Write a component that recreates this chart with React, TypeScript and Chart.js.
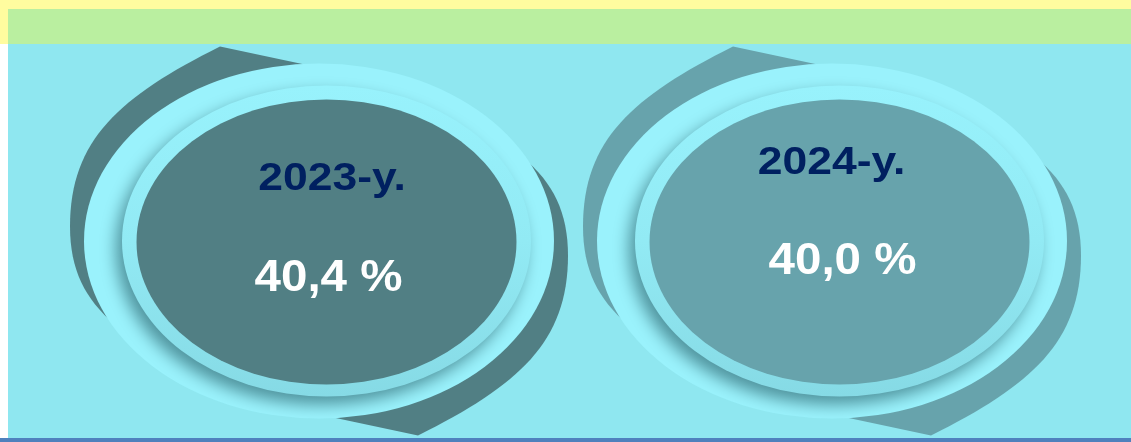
import React, { useEffect, useRef } from "react";
import { Chart, registerables } from "chart.js";

Chart.register(...registerables);

// ---- data ----
const years: string[] = ["2023-y.", "2024-y."];
const shares: number[] = [40.4, 40.0];

// ---- styles / layout (kept apart from the data) ----
const darkFills: string[] = ["#517F84", "#67A3AC"];
const yearShift = [
  { dx: 13, dy: -51.5 },
  { dx: -0.5, dy: -67 },
];
const valueShift = [
  { dx: 9.5, dy: 50 },
  { dx: 10.5, dy: 33 },
];

const W = 1131;
const H = 442;

function ellipsePath(ctx: CanvasRenderingContext2D, x: number, y: number, rx: number, ry: number) {
  ctx.beginPath();
  ctx.ellipse(x, y, rx, ry, 0, 0, Math.PI * 2);
}

function drawItem(ctx: CanvasRenderingContext2D, cx: number, cy: number, i: number) {
  const dark = darkFills[i % darkFills.length];
  ctx.save();
  // back twisted shape (two point-symmetric crescents)
  ctx.fillStyle = dark;
  for (const rot of [0, Math.PI]) {
    ctx.save();
    ctx.translate(cx, cy);
    ctx.rotate(rot);
    ctx.beginPath();
    ctx.moveTo(-99, -194.5);
    ctx.bezierCurveTo(-199, -144.5, -249, -101.5, -249, -14.5);
    ctx.bezierCurveTo(-249, 28.5, -234, 58.5, -204, 83.5);
    ctx.lineTo(-60, 20);
    ctx.lineTo(11.5, -171);
    ctx.closePath();
    ctx.fill();
    ctx.restore();
  }

  // outer light oval
  ctx.fillStyle = "#9AF2FC";
  ellipsePath(ctx, cx, cy, 235, 177.5);
  ctx.fill();

  // middle ring with drop shadow, clipped to outer oval
  ctx.save();
  ellipsePath(ctx, cx, cy, 235, 177.5);
  ctx.clip();
  const g = ctx.createLinearGradient(0, cy - 155, 0, cy + 155);
  g.addColorStop(0, "#98F2FC");
  g.addColorStop(0.5, "#92EAF4");
  g.addColorStop(1, "#86DAE5");
  ctx.fillStyle = g;
  ctx.shadowColor = "rgba(30,85,95,0.6)";
  ctx.shadowBlur = 16;
  ctx.shadowOffsetX = -6;
  ctx.shadowOffsetY = 8;
  ellipsePath(ctx, cx + 7.5, cy, 204.5, 155.5);
  ctx.fill();
  ctx.restore();

  // inner dark oval
  ctx.fillStyle = dark;
  ellipsePath(ctx, cx + 7.5, cy + 1, 190, 142.5);
  ctx.fill();

  // texts
  const ys = yearShift[i] || { dx: 0, dy: -55 };
  const vs = valueShift[i] || { dx: 0, dy: 45 };
  ctx.textAlign = "center";
  ctx.textBaseline = "alphabetic";

  ctx.save();
  ctx.translate(cx + ys.dx, cy + ys.dy);
  ctx.scale(1.17, 1);
  ctx.font = 'bold 38px "Liberation Sans", Arial, sans-serif';
  ctx.fillStyle = "#002060";
  ctx.fillText(years[i], 0, 0);
  ctx.restore();

  ctx.save();
  ctx.translate(cx + vs.dx, cy + vs.dy);
  ctx.scale(1.08, 1);
  ctx.font = 'bold 44px "Liberation Sans", Arial, sans-serif';
  ctx.fillStyle = "#FFFFFF";
  ctx.fillText(shares[i].toFixed(1).replace(".", ",") + " %", 0, 0);
  ctx.restore();

  ctx.restore();
}

const ovalPlugin = {
  id: "ovalPlugin",
  beforeDraw(chart: any) {
    const ctx: CanvasRenderingContext2D = chart.ctx;
    const w = chart.width;
    const h = chart.height;
    ctx.save();
    ctx.fillStyle = "#FFFFFF";
    ctx.fillRect(0, 0, w, h);
    ctx.fillStyle = "#FFFC9F";
    ctx.fillRect(0, 0, w, 9);
    ctx.fillRect(0, 0, 8, 44);
    ctx.fillStyle = "#BAEFA0";
    ctx.fillRect(8, 9, w - 8, 35);
    ctx.fillStyle = "#8FE7F0";
    ctx.fillRect(8, 44, w - 8, 394);
    ctx.fillStyle = "#4F81BD";
    ctx.fillRect(0, 438, w, h - 438);
    ctx.restore();
  },
  afterDatasetsDraw(chart: any) {
    const ctx: CanvasRenderingContext2D = chart.ctx;
    const meta = chart.getDatasetMeta(0);
    meta.data.forEach((pt: any, i: number) => {
      drawItem(ctx, pt.x, pt.y, i);
    });
  },
};

export default function App() {
  const ref = useRef<HTMLCanvasElement | null>(null);
  useEffect(() => {
    if (!ref.current) return;
    const chart = new Chart(ref.current, {
      type: "scatter",
      data: {
        datasets: [
          {
            label: "share",
            data: years.map((_, i) => ({ x: i, y: 0 })),
            pointRadius: 0,
            pointHoverRadius: 0,
          },
        ],
      },
      options: {
        responsive: false,
        animation: false,
        events: [],
        layout: { padding: { left: 62.5, right: 42.5, top: 44, bottom: 4 } },
        plugins: { legend: { display: false }, tooltip: { enabled: false } },
        scales: {
          x: { type: "linear", min: -0.5, max: 1.5, display: false },
          y: { type: "linear", min: -1, max: 1, display: false },
        },
      },
      plugins: [ovalPlugin],
    });
    return () => chart.destroy();
  }, []);
  return (
    <div style={{ position: "fixed", left: 0, top: 0, width: W, height: H }}>
      <canvas ref={ref} width={W} height={H} style={{ width: W, height: H, display: "block" }} />
    </div>
  );
}
